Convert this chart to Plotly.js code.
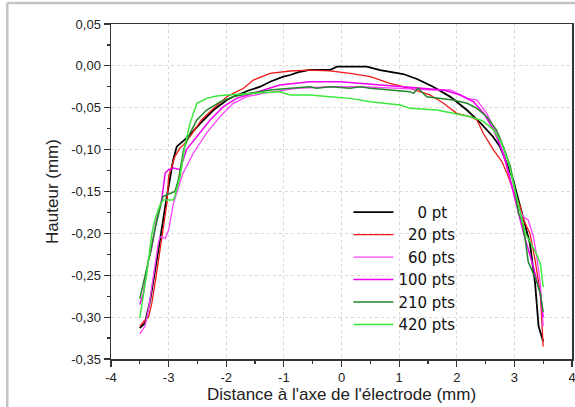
<!DOCTYPE html>
<html>
<head>
<meta charset="utf-8">
<script src="https://cdn.plot.ly/plotly-3.0.1.min.js"></script>
<style>html,body{margin:0;padding:0;background:#fff;}#chart{width:575px;height:407px;}</style>
</head>
<body>
<div id="chart"></div>
<script>
// Series names (legend)
const seriesNames = ['0 pt', '20 pts', '60 pts', '100 pts', '210 pts', '420 pts'];

// 0 pt
const x0pt = [-3.5,-3.41,-3.32,-3.24,-3.15,-3.06,-3.0,-2.92,-2.86,-2.66,-2.45,-2.22,-1.99,-1.88,-1.59,-1.41,-1.24,-1.01,-0.89,-0.72,-0.55,-0.2,-0.08,0.32,0.44,0.67,1.07,1.31,1.59,1.89,2.18,2.41,2.63,2.75,2.87,2.98,3.04,3.13,3.27,3.36,3.42,3.5];
const y0pt = [-0.313,-0.307,-0.28,-0.248,-0.208,-0.168,-0.145,-0.112,-0.0965,-0.0845,-0.0686,-0.0527,-0.0408,-0.0368,-0.0288,-0.0249,-0.0189,-0.0129,-0.0109,-0.007,-0.0049,-0.0049,-0.001,-0.001,-0.001,-0.005,-0.0097,-0.0157,-0.0249,-0.037,-0.053,-0.068,-0.0846,-0.0965,-0.116,-0.136,-0.152,-0.176,-0.212,-0.26,-0.311,-0.329];

// 20 pts
const x20 = [-3.5,-3.43,-3.35,-3.29,-3.21,-3.12,-3.03,-3.0,-2.89,-2.8,-2.74,-2.63,-2.43,-2.25,-1.99,-1.88,-1.70,-1.53,-1.24,-0.89,-0.55,-0.2,0.15,0.5,0.84,1.19,1.54,1.77,2.0,2.23,2.35,2.46,2.64,2.78,2.87,2.98,3.1,3.16,3.27,3.36,3.45,3.5];
const y20 = [-0.311,-0.305,-0.3,-0.283,-0.248,-0.208,-0.164,-0.132,-0.108,-0.098,-0.094,-0.0845,-0.0646,-0.0527,-0.0368,-0.0328,-0.0268,-0.0169,-0.0089,-0.0061,-0.005,-0.006,-0.0089,-0.0129,-0.0208,-0.0268,-0.0348,-0.0447,-0.0567,-0.0607,-0.0646,-0.0805,-0.1005,-0.114,-0.128,-0.148,-0.168,-0.184,-0.2,-0.232,-0.272,-0.335];

// 60 pts
const x60 = [-3.5,-3.41,-3.35,-3.27,-3.18,-3.15,-3.06,-3.0,-2.92,-2.75,-2.57,-2.34,-2.1,-1.88,-1.64,-1.36,-0.78,-0.2,0.32,1.02,1.6,1.89,2.18,2.35,2.52,2.69,2.87,2.98,3.04,3.15,3.24,3.33,3.38,3.45,3.5];
const y60 = [-0.32,-0.311,-0.291,-0.252,-0.212,-0.204,-0.206,-0.196,-0.165,-0.128,-0.104,-0.08,-0.06,-0.0447,-0.0368,-0.0328,-0.0268,-0.0249,-0.0249,-0.0268,-0.0288,-0.0288,-0.0388,-0.0408,-0.0567,-0.0805,-0.12,-0.148,-0.165,-0.18,-0.184,-0.204,-0.224,-0.26,-0.311];

// 100 pts
const x100 = [-3.5,-3.44,-3.35,-3.29,-3.21,-3.12,-3.06,-3.0,-2.92,-2.8,-2.69,-2.51,-2.28,-2.05,-1.82,-1.07,-0.55,-0.02,0.32,0.73,1.31,1.77,2.06,2.29,2.47,2.64,2.81,2.93,3.01,3.16,3.33,3.45,3.5];
const y100 = [-0.285,-0.272,-0.232,-0.216,-0.184,-0.16,-0.128,-0.124,-0.122,-0.124,-0.1,-0.0845,-0.0646,-0.0487,-0.0388,-0.0229,-0.0189,-0.0189,-0.0208,-0.0229,-0.0268,-0.0288,-0.0348,-0.0428,-0.0567,-0.0766,-0.104,-0.136,-0.16,-0.2,-0.24,-0.272,-0.3];

// 210 pts
const x210 = [-3.5,-3.41,-3.32,-3.24,-3.15,-3.1,-2.89,-2.83,-2.74,-2.63,-2.51,-2.34,-2.1,-1.88,-1.59,-1.24,-0.89,-0.55,-0.43,-0.2,0.15,0.32,0.5,0.84,1.19,1.25,1.33,1.48,1.71,1.94,2.18,2.35,2.52,2.69,2.81,2.93,3.01,3.07,3.13,3.19,3.24,3.3,3.38,3.45,3.5];
const y210 = [-0.278,-0.252,-0.224,-0.196,-0.168,-0.156,-0.15,-0.136,-0.1,-0.0805,-0.0646,-0.0527,-0.0428,-0.0368,-0.0328,-0.0288,-0.0268,-0.0249,-0.0268,-0.0249,-0.0268,-0.0249,-0.0268,-0.0288,-0.0308,-0.0328,-0.0268,-0.0368,-0.0388,-0.0408,-0.0447,-0.0507,-0.0607,-0.0766,-0.0965,-0.12,-0.148,-0.176,-0.184,-0.208,-0.234,-0.244,-0.256,-0.272,-0.294];

// 420 pts
const x420 = [-3.5,-3.44,-3.38,-3.29,-3.24,-3.15,-3.09,-2.92,-2.89,-2.8,-2.72,-2.63,-2.51,-2.34,-2.17,-1.99,-1.59,-1.07,-0.89,-0.55,-0.2,0.15,0.5,1.02,1.19,1.65,1.94,2.23,2.41,2.47,2.64,2.78,2.9,2.98,3.07,3.13,3.19,3.27,3.38,3.45,3.5];
const y420 = [-0.301,-0.276,-0.248,-0.2,-0.184,-0.166,-0.16,-0.16,-0.155,-0.132,-0.0965,-0.0686,-0.0447,-0.0388,-0.036,-0.0348,-0.0328,-0.0308,-0.0348,-0.0348,-0.0368,-0.0388,-0.0428,-0.0467,-0.0507,-0.0527,-0.0567,-0.0607,-0.0646,-0.0666,-0.0766,-0.0925,-0.116,-0.14,-0.168,-0.184,-0.2,-0.21,-0.224,-0.236,-0.264];

// Tick labels
const xTickVals = [-4,-3,-2,-1,0,1,2,3,4];
const xTickText = ['-4','-3','-2','-1','0','1','2','3','4'];
const yTickVals = [0.05,0,-0.05,-0.1,-0.15,-0.2,-0.25,-0.3,-0.35];
const yTickText = ['0,05','0,00','-0,05','-0,10','-0,15','-0,20','-0,25','-0,30','-0,35'];

const xs = [x0pt, x20, x60, x100, x210, x420];
const ys = [y0pt, y20, y60, y100, y210, y420];
const colors = ['#000000', '#f01818', '#ff40ff', '#f000f0', '#23862a', '#3be83b'];
const widths = [1.8, 1.3, 1.3, 1.5, 1.5, 1.5];
const pads = ['\u00a0\u00a0\u00a0\u00a0', '\u00a0\u00a0', '\u00a0\u00a0', '', '', ''];

const traces = seriesNames.map((n, i) => ({
  x: xs[i], y: ys[i], type: 'scatter', mode: 'lines',
  name: pads[i] + n,
  line: {color: colors[i], width: widths[i]}
}));

const gridCol = '#d8d8d8';
const layout = {
  width: 575, height: 407,
  margin: {l: 111, r: 3, t: 24, b: 48},
  paper_bgcolor: '#ffffff', plot_bgcolor: '#ffffff',
  font: {family: 'Liberation Sans, Arial, sans-serif', color: '#222', size: 13},
  showlegend: true,
  legend: {
    x: 0.515, y: 0.487, xanchor: 'left', yanchor: 'top',
    bgcolor: 'rgba(0,0,0,0)', borderwidth: 0,
    font: {size: 15, color: '#111', family: 'DejaVu Sans, sans-serif'},
    itemwidth: 40, tracegroupgap: 0
  },
  xaxis: {
    range: [-4, 4], tickvals: xTickVals, ticktext: xTickText,
    ticks: 'outside', ticklen: 6, tickwidth: 1.2, tickcolor: '#333',
    ticklabeloverflow: 'allow',
    showline: true, linecolor: '#333', linewidth: 1.5, mirror: true,
    showgrid: true, gridcolor: gridCol, griddash: '3px,3px', gridwidth: 1,
    zeroline: false,
    minor: {dtick: 0.5, tick0: 0, ticks: 'outside', ticklen: 3, tickcolor: '#333', showgrid: false},
    tickfont: {size: 13},
    title: {text: "Distance à l'axe de l'électrode (mm)", font: {size: 17}, standoff: 4}
  },
  yaxis: {
    range: [-0.35, 0.05], tickvals: yTickVals, ticktext: yTickText,
    ticks: 'outside', ticklen: 6, tickwidth: 1.2, tickcolor: '#333',
    showline: true, linecolor: '#333', linewidth: 1.5, mirror: true,
    showgrid: true, gridcolor: gridCol, griddash: '3px,3px', gridwidth: 1,
    zeroline: false,
    minor: {dtick: 0.025, tick0: 0, ticks: 'outside', ticklen: 3, tickcolor: '#333', showgrid: false},
    tickfont: {size: 13},
    title: {text: 'Hauteur (mm)', font: {size: 17}, standoff: 8}
  },
  shapes: [
    {type: 'line', xref: 'paper', yref: 'paper', x0: -0.225, x1: -0.225, y0: -0.2, y1: 1.063, line: {color: '#c4c4c4', width: 2.5}},
    {type: 'line', xref: 'paper', yref: 'paper', x0: -0.225, x1: 1.1, y0: 1.063, y1: 1.063, line: {color: '#c4c4c4', width: 2.5}}
  ]
};

Plotly.newPlot('chart', traces, layout, {displayModeBar: false, staticPlot: true});
</script>
</body>
</html>
